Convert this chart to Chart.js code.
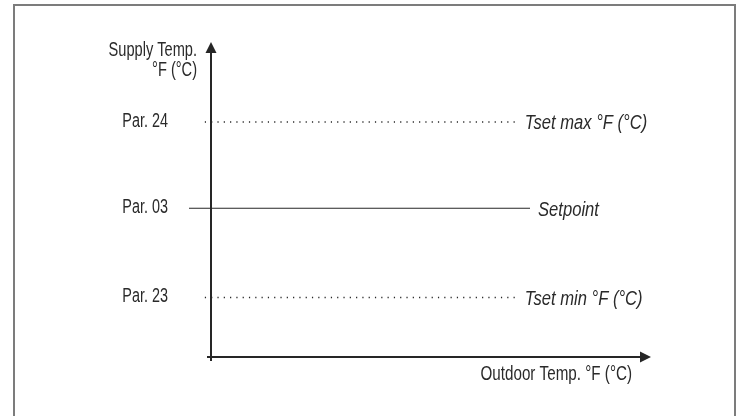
<!DOCTYPE html>
<html>
<head>
<meta charset="utf-8">
<title>Supply temperature setpoint</title>
<script src="https://cdn.jsdelivr.net/npm/chart.js@4.4.1/dist/chart.umd.min.js"></script>
<style>
  html, body { margin: 0; padding: 0; background: #fff; overflow: hidden; }
  #wrap { position: relative; width: 742px; height: 416px; }
  #frame {
    position: absolute; left: 13px; top: 4px; width: 723px; height: 430px;
    border: 2px solid #7c7c7c; box-sizing: border-box;
  }
  canvas { position: absolute; left: 0; top: 0; }
</style>
</head>
<body>
<div id="wrap">
  <div id="frame"></div>
  <canvas id="setpointChart" width="742" height="416"></canvas>
</div>
<script>
// Niveaux de température (unités relatives sur l'axe vertical)
const levelValues = [7.9, 5, 2];
const levelTicks = ["Par. 24", "Par. 03", "Par. 23"];
const levelNames = ["Tset max °F (°C)", "Setpoint", "Tset min °F (°C)"];
const levelDashed = [true, false, true];
// Étendue horizontale de chaque ligne
const lineStart = [-1.4, -5, -1.4];
const lineEnd = [69.5, 72.5, 69.5];

const yAxisTitle = ["Supply Temp.", "°F (°C)"];
const xAxisTitle = "Outdoor Temp. °F (°C)";

const INK = "#262626";
const FONT = '20px "Liberation Sans", Arial, sans-serif';
const FONT_IT = 'italic 20px "Liberation Sans", Arial, sans-serif';

const datasets = levelValues.map((v, i) => ({
  label: levelNames[i],
  data: [
    { x: lineStart[i], y: v },
    { x: lineEnd[i], y: v },
  ],
  showLine: true,
  borderColor: INK,
  borderWidth: levelDashed[i] ? 1.4 : 1.2,
  borderDash: levelDashed[i] ? [1.2, 5.1] : [],
  pointRadius: 0,
  fill: false,
}));

// texte "condensé" : on comprime horizontalement
function condensedText(ctx, text, x, y, align, sx, font) {
  ctx.save();
  ctx.font = font;
  ctx.textAlign = align;
  ctx.textBaseline = "alphabetic";
  ctx.translate(x, y);
  ctx.scale(sx, 1);
  ctx.fillText(text, 0, 0);
  ctx.restore();
}

// Plugin : axes avec flèches, étiquettes et titres
const axesPlugin = {
  id: "axesArrows",
  afterDatasetsDraw(chart) {
    const ctx = chart.ctx;
    const xs = chart.scales.x;
    const ys = chart.scales.y;
    const x0 = Math.round(xs.getPixelForValue(0));
    const y0 = Math.round(ys.getPixelForValue(0));
    const yTop = ys.getPixelForValue(ys.max);
    const xRight = xs.getPixelForValue(xs.max);

    ctx.save();
    ctx.strokeStyle = INK;
    ctx.fillStyle = INK;
    ctx.lineWidth = 2;

    // axe vertical
    ctx.beginPath();
    ctx.moveTo(x0, y0 + 4);
    ctx.lineTo(x0, yTop + 8);
    ctx.stroke();
    ctx.beginPath();
    ctx.moveTo(x0, yTop);
    ctx.lineTo(x0 - 5.5, yTop + 11);
    ctx.lineTo(x0 + 5.5, yTop + 11);
    ctx.closePath();
    ctx.fill();

    // axe horizontal
    ctx.beginPath();
    ctx.moveTo(x0 - 4, y0);
    ctx.lineTo(xRight - 8, y0);
    ctx.stroke();
    ctx.beginPath();
    ctx.moveTo(xRight, y0);
    ctx.lineTo(xRight - 11, y0 - 5.5);
    ctx.lineTo(xRight - 11, y0 + 5.5);
    ctx.closePath();
    ctx.fill();

    ctx.fillStyle = "#2a2a2a";

    // étiquettes à gauche
    levelValues.forEach((v, i) => {
      condensedText(ctx, levelTicks[i], 168, ys.getPixelForValue(v) + 5, "right", 0.72, FONT);
    });

    // noms des lignes à droite
    levelValues.forEach((v, i) => {
      const xe = xs.getPixelForValue(lineEnd[i]);
      condensedText(ctx, levelNames[i], xe + 8, ys.getPixelForValue(v) + 7.5, "left", 0.83, FONT_IT);
    });

    // titres des axes
    condensedText(ctx, yAxisTitle[0], 197, 56, "right", 0.73, FONT);
    condensedText(ctx, yAxisTitle[1], 197, 76, "right", 0.73, FONT);
    condensedText(ctx, xAxisTitle, 632, 380, "right", 0.76, FONT);

    ctx.restore();
  },
};

const ctx = document.getElementById("setpointChart").getContext("2d");
new Chart(ctx, {
  type: "scatter",
  data: { datasets: datasets },
  options: {
    responsive: false,
    animation: false,
    layout: { padding: { left: 189, right: 91, top: 42, bottom: 59 } },
    plugins: { legend: { display: false }, tooltip: { enabled: false } },
    scales: {
      x: { type: "linear", min: -5, max: 100, display: false },
      y: { type: "linear", min: 0, max: 10.588, display: false },
    },
  },
  plugins: [axesPlugin],
});
</script>
</body>
</html>
